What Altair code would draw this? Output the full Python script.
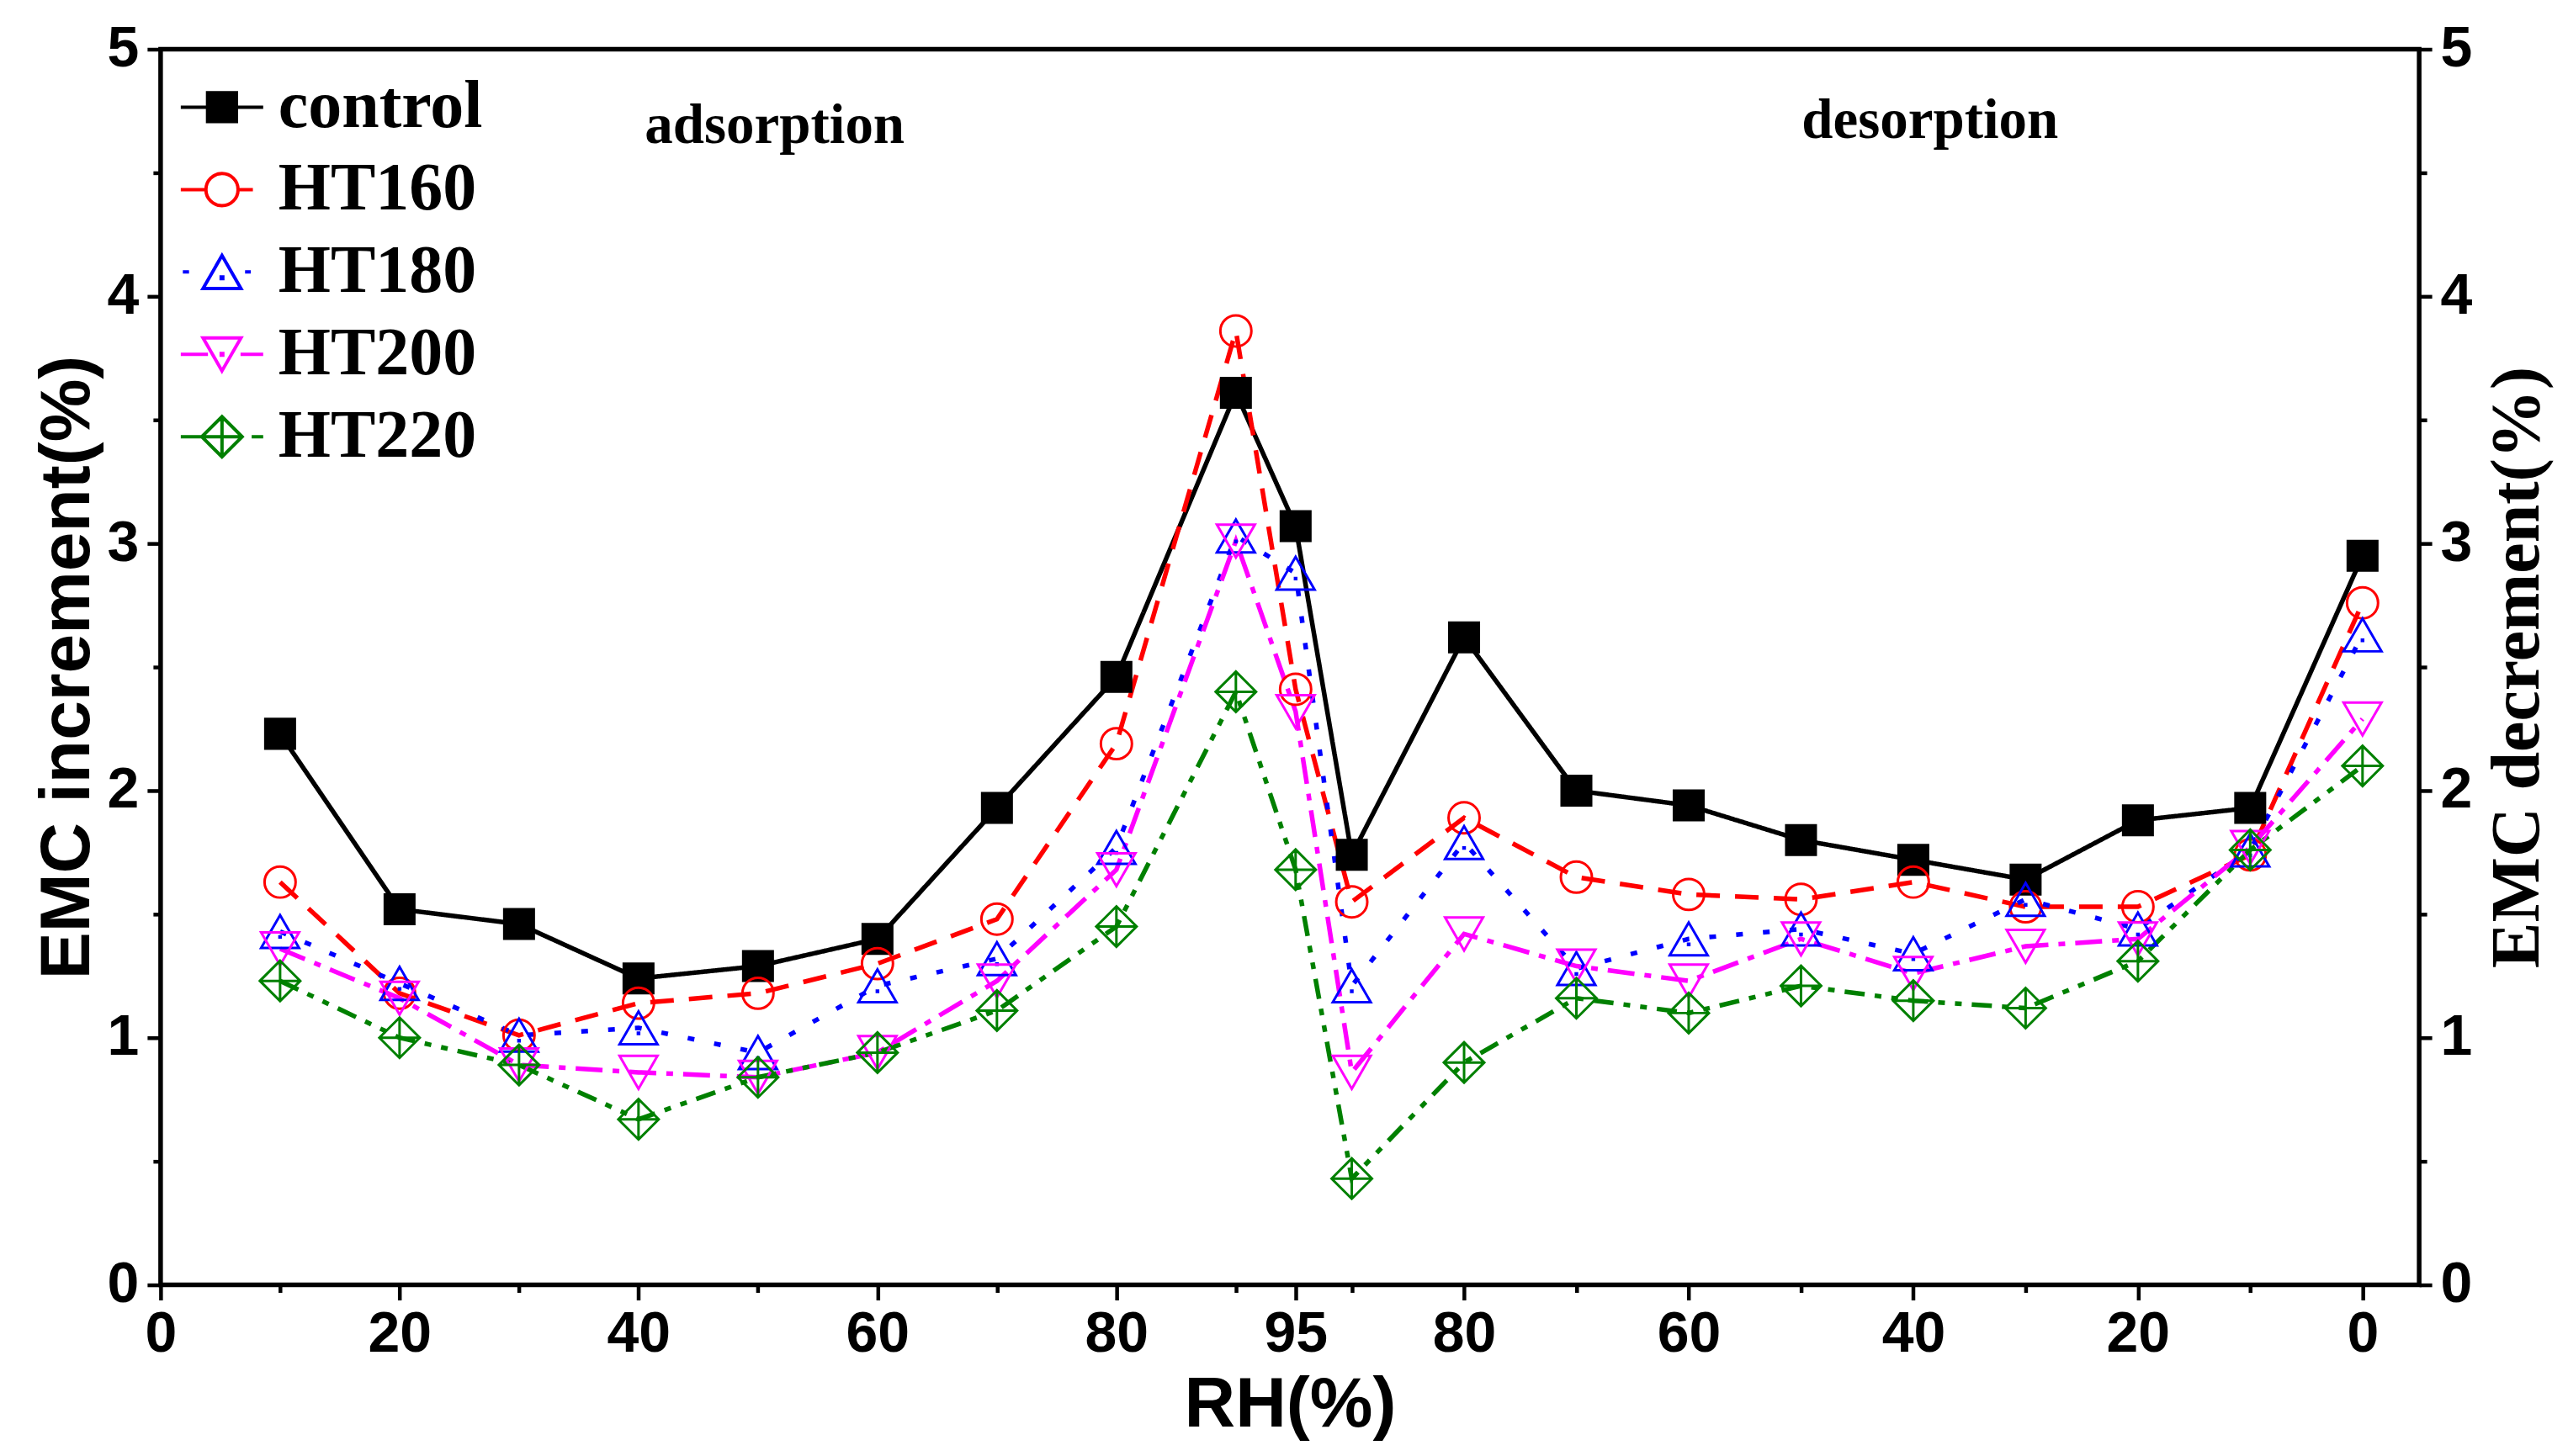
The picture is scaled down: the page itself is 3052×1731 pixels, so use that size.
import altair as alt
import pandas as pd

# series and styles
SERIES = ["control", "HT160", "HT180", "HT200", "HT220"]
COLORS = ["black", "red", "blue", "magenta", "green"]
FILLS = ["black", "transparent", "transparent", "transparent", "transparent"]
DASHES = [[1, 0], [28, 18], [8, 24], [32, 12, 8, 12], [24, 12, 8, 12, 8, 12]]

# RH steps: adsorption up to 95, then desorption back down to 0
RH_ADS = [10, 20, 30, 40, 50, 60, 70, 80, 90, 95]
RH_DES = [90, 80, 70, 60, 50, 40, 30, 20, 10, 0]

control = [2.23, 1.52, 1.46, 1.24, 1.29, 1.40, 1.93, 2.46, 3.61, 3.07,
           1.74, 2.62, 2.00, 1.94, 1.80, 1.72, 1.64, 1.88, 1.93, 2.95]
ht160 = [1.63, 1.18, 1.01, 1.14, 1.18, 1.30, 1.48, 2.19, 3.86, 2.41,
         1.55, 1.89, 1.65, 1.58, 1.56, 1.63, 1.53, 1.53, 1.74, 2.76]
ht180 = [1.43, 1.22, 1.01, 1.04, 0.94, 1.21, 1.32, 1.77, 3.03, 2.88,
         1.21, 1.79, 1.28, 1.40, 1.44, 1.34, 1.56, 1.44, 1.76, 2.63]
ht200 = [1.36, 1.16, 0.89, 0.86, 0.84, 0.94, 1.23, 1.68, 3.01, 2.32,
         0.86, 1.42, 1.29, 1.23, 1.40, 1.26, 1.37, 1.40, 1.77, 2.29]
ht220 = [1.23, 1.00, 0.89, 0.67, 0.84, 0.94, 1.11, 1.45, 2.40, 1.68,
         0.43, 0.90, 1.16, 1.10, 1.21, 1.15, 1.12, 1.31, 1.76, 2.10]

ANNOT_TEXT = ["adsorption", "desorption"]
ANNOT_POS = [51.4, 148.1]
ANNOT_VAL = [4.62, 4.64]

# desorption side of the axis is slightly compressed
DES_STEP = 0.94


def des_pos(rh):
    return 95 + (95 - rh) * DES_STEP


POS = RH_ADS + [des_pos(r) for r in RH_DES]
X_MAJOR = [0, 20, 40, 60, 80, 95] + [des_pos(r) for r in [80, 60, 40, 20, 0]]
X_MINOR = [10, 30, 50, 70, 90] + [des_pos(r) for r in [90, 70, 50, 30, 10]]
Y_MAJOR = [0, 1, 2, 3, 4, 5]
Y_MINOR = [0.5, 1.5, 2.5, 3.5, 4.5]

rows = []
for name, vals in zip(SERIES, [control, ht160, ht180, ht200, ht220]):
    for p, v in zip(POS, vals):
        rows.append({"series": name, "pos": p, "val": v})
df = pd.DataFrame(rows)
annot = pd.DataFrame({"label": ANNOT_TEXT, "pos": ANNOT_POS, "val": ANNOT_VAL})

# marker paths (unit = half symbol width)
POINT_SHAPES = [
    "M-0.73,-0.73H0.73V0.73H-0.73Z",
    "M0.77,0A0.77,0.77,0,1,1,-0.77,0A0.77,0.77,0,1,1,0.77,0Z",
    "M0,-0.814L0.94,0.814L-0.94,0.814ZM-0.03,0.24H0.03V0.3H-0.03Z",
    "M0,0.814L0.94,-0.814L-0.94,-0.814Z",
    "M-1,0L0,-1L1,0L0,1ZM-1,0H1M0,-1V1",
]
# legend symbols: marker plus a piece of the line style
LEGEND_SHAPES = [
    "M-1,0H1M-0.35,-0.35H0.35V0.35H-0.35Z",
    "M-1,0H-0.39M0.39,0H0.75M0.39,0A0.39,0.39,0,1,1,-0.39,0A0.39,0.39,0,1,1,0.39,0Z",
    "M-0.95,0H-0.8M0.56,0H0.7M0,-0.4L0.46,0.4L-0.46,0.4ZM-0.02,0.12H0.02V0.16H-0.02Z",
    "M-1,0H-0.34M0.45,0H1M0,0.4L0.46,-0.4L-0.46,-0.4ZM-0.02,-0.02H0.02V0.02H-0.02Z",
    "M-1,0H-0.43M0.72,0H1M-0.49,0L0,-0.49L0.49,0L0,0.49ZM-0.49,0H0.49M0,-0.49V0.49",
]

SANS = "Liberation Sans"
SERIF = "Liberation Serif"

xscale = alt.Scale(domain=[0, 189.04], nice=False, zero=False)
yscale = alt.Scale(domain=[0, 5], nice=False)

label_expr = (f"datum.value <= 95.5 ? format(datum.value, '.0f') : "
              f"format(95 - (datum.value - 95) / {DES_STEP}, '.0f')")

axis_common = dict(domain=False, grid=False, tickColor="black", tickWidth=4.5,
                   labelFont=SANS, labelFontWeight="bold", labelFontSize=68,
                   labelColor="black", labelFlush=False, labelOverlap=False)

x_major = alt.X("pos:Q", scale=xscale, axis=alt.Axis(
    orient="bottom", values=X_MAJOR, labelExpr=label_expr, tickSize=18,
    labelPadding=7, title="RH(%)", titleFont=SANS, titleFontWeight="bold",
    titleFontSize=84, titleColor="black", titlePadding=9, **axis_common))
x_minor = alt.X("pos:Q", scale=xscale, axis=alt.Axis(
    orient="bottom", values=X_MINOR, labels=False, tickSize=9, title=None,
    **axis_common))
y_left = alt.Y("val:Q", scale=yscale, axis=alt.Axis(
    orient="left", values=Y_MAJOR, tickSize=16, labelPadding=10,
    title="EMC increment(%)", titleFont=SANS, titleFontWeight="bold",
    titleFontSize=84, titleColor="black", titlePadding=4, **axis_common))
y_left_minor = alt.Y("val:Q", scale=yscale, axis=alt.Axis(
    orient="left", values=Y_MINOR, labels=False, tickSize=9, title=None,
    **axis_common))
y_right = alt.Y("val:Q", scale=yscale, axis=alt.Axis(
    orient="right", values=Y_MAJOR, tickSize=15, labelPadding=10,
    title="EMC decrement(%)", titleFont=SERIF, titleFontWeight="bold",
    titleFontSize=82, titleColor="black", titleAngle=270, titleBaseline="top",
    titlePadding=14, **axis_common))
y_right_minor = alt.Y("val:Q", scale=yscale, axis=alt.Axis(
    orient="right", values=Y_MINOR, labels=False, tickSize=9, title=None,
    **axis_common))

color_scale = alt.Scale(domain=SERIES, range=COLORS)
fill_scale = alt.Scale(domain=SERIES, range=FILLS)

lines = alt.Chart(df).mark_line(strokeWidth=5.5).encode(
    x=x_major,
    y=y_left,
    color=alt.Color("series:N", scale=color_scale, legend=None),
    strokeDash=alt.StrokeDash("series:N", scale=alt.Scale(domain=SERIES, range=DASHES), legend=None),
)

points = alt.Chart(df).mark_point(filled=False, size=2304, strokeWidth=3, opacity=1).encode(
    x=x_minor,
    y=y_left_minor,
    color=alt.Color("series:N", scale=color_scale, legend=None),
    fill=alt.Fill("series:N", scale=fill_scale, legend=None),
    shape=alt.Shape("series:N", scale=alt.Scale(domain=SERIES, range=POINT_SHAPES), legend=None),
)

legend_spec = alt.Legend(
    orient="none", legendX=22, legendY=18, title=None, padding=0,
    labelFont=SERIF, labelFontSize=80, labelFontWeight="bold", labelColor="black",
    labelOffset=16, labelLimit=600, symbolSize=9604, symbolStrokeWidth=4,
    symbolOpacity=1, rowPadding=7,
)

legend_layer = alt.Chart(df).transform_filter("false").mark_point(
    filled=False, size=9604, strokeWidth=4, opacity=1
).encode(
    x=alt.X("pos:Q", scale=xscale, axis=None),
    y=y_right,
    color=alt.Color("series:N", scale=color_scale, legend=legend_spec),
    fill=alt.Fill("series:N", scale=fill_scale, legend=legend_spec),
    shape=alt.Shape("series:N", scale=alt.Scale(domain=SERIES, range=LEGEND_SHAPES), legend=legend_spec),
)

labels = alt.Chart(annot).mark_text(
    font=SERIF, fontWeight="bold", fontSize=67, color="black",
    align="center", baseline="alphabetic"
).encode(
    x=alt.X("pos:Q", scale=xscale, axis=None),
    y=y_right_minor,
    text="label:N",
)

chart = alt.layer(lines, points, legend_layer, labels).resolve_scale(
    color="independent", fill="independent", shape="independent", strokeDash="independent"
).resolve_axis(
    x="independent", y="independent"
).properties(
    width=2686,
    height=1470,
    autosize=alt.AutoSizeParams(type="none"),
    padding={"left": 183, "top": 50, "right": 169, "bottom": 190},
).configure_view(
    stroke="black", strokeWidth=5.5
)

chart.save("out.html", embed_options={"renderer": "svg", "actions": False})
